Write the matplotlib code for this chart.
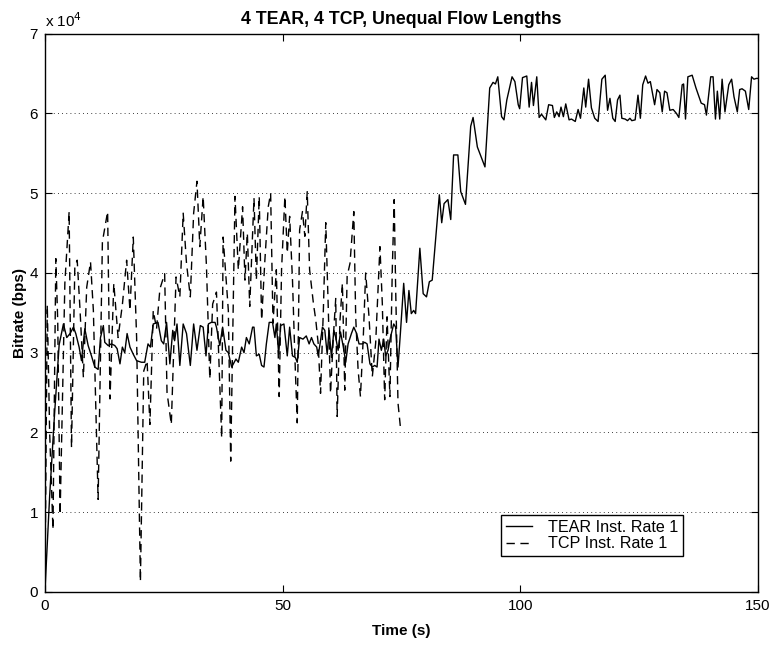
import matplotlib.pyplot as plt
from matplotlib.ticker import ScalarFormatter

plt.rcParams['font.family'] = ['Liberation Sans', 'DejaVu Sans']

# TEAR instantaneous rate (time s, bitrate in units of 1e4 bps)
tear_t = [0, 1, 2, 3, 3.9, 4.6, 5.3, 6, 6.5, 7.2, 7.7, 8.4, 9.1, 9.8, 10.5, 11.2, 11.7, 12.3, 12.6,
          13.3, 14, 14.7, 15.2, 15.8, 16.3, 16.8, 17.3, 17.9, 18.6, 19.3, 20.3, 21, 21.7, 22.2, 22.8,
          23.8, 24.5, 25, 25.6, 26.3, 26.9, 27.3, 27.8, 28.4, 29.1, 29.8, 30.6, 31.3, 32, 32.7, 33.3,
          33.9, 34.4, 35, 35.8, 36.1, 36.8, 37.4, 38.1, 38.6, 39.3, 40.2, 40.7, 41.4, 41.9, 42.4, 43,
          43.7, 44, 44.5, 45.1, 45.6, 46.1, 46.6, 47.2, 47.9, 48.4, 48.7, 49.2, 49.6, 50.3, 51, 51.5,
          52.1, 52.7, 53.1, 53.6, 54.3, 55, 55.6, 56.1, 56.6, 57.2, 57.5, 57.9, 58.4, 58.9, 59.4, 59.8,
          60.3, 60.8, 61.2, 61.7, 62.2, 62.8, 63.3, 63.8, 64.5, 65, 65.6, 66.1, 66.8, 67.3, 67.8, 68.4,
          68.9, 69.4, 69.9, 70.3, 70.8, 71.3, 71.7, 72.2, 72.7, 73.4, 73.8, 74.3, 74.8, 75.5, 76.1,
          76.6, 77.1, 77.6, 78, 78.9, 79.6, 80.3, 80.9, 81.5, 83, 83.5, 84, 84.8, 85.4, 86, 86.9, 87.5,
          88.5, 89.6, 90.1, 91, 92.6, 93.6, 94.3, 94.8, 95.3, 96.1, 96.6, 97.2, 98.3, 98.9, 99.6, 99.9,
          100.5, 101.4, 101.9, 102.4, 102.8, 103.5, 104, 104.5, 105.4, 106, 106.8, 107.2, 107.7, 108.2,
          108.6, 109.1, 109.6, 110.3, 110.8, 111.6, 112.2, 112.7, 113.4, 113.8, 114.4, 115, 115.7,
          116.4, 117.2, 117.9, 118.4, 118.9, 119.5, 120, 120.5, 121, 121.4, 122.1, 122.6, 123.1, 123.5,
          124.2, 124.8, 125.3, 125.8, 126.4, 126.9, 127.4, 128.3, 128.8, 129.4, 129.9, 130.4, 130.9,
          131.5, 132.2, 132.9, 133.4, 134.1, 134.4, 134.8, 135.3, 136.2, 137, 138.1, 138.8, 139.2,
          140.1, 140.6, 141.1, 141.5, 142, 142.5, 143.1, 143.9, 144.5, 145, 145.7, 146.2, 146.7, 147.4,
          148.1, 148.7, 149.2, 149.7, 150]
tear_v = [0, 1.2, 2.2, 3.1, 3.36, 3.19, 3.24, 3.32, 3.24, 3.07, 2.9, 3.3, 3.09, 2.96, 2.82, 2.79, 3.19,
          3.34, 3.13, 3.09, 3.11, 3.09, 3.05, 2.86, 3.07, 3.0, 3.24, 3.07, 2.98, 2.9, 2.88, 2.88, 3.11,
          3.07, 3.36, 3.38, 3.15, 3.11, 3.38, 2.86, 3.28, 3.15, 3.36, 2.84, 3.36, 3.24, 2.84, 3.36,
          3.03, 3.34, 3.32, 2.96, 3.36, 3.38, 3.38, 3.32, 3.09, 3.32, 3.03, 3.0, 2.82, 2.92, 2.88,
          3.07, 3.0, 3.19, 3.11, 3.32, 3.32, 2.96, 2.98, 2.84, 2.82, 3.11, 3.38, 3.38, 3.19, 3.36,
          2.98, 3.34, 3.36, 2.96, 3.32, 2.96, 2.94, 2.88, 3.19, 3.17, 3.21, 3.11, 3.19, 3.11, 3.07,
          2.96, 3.11, 3.32, 3.28, 2.98, 3.28, 2.94, 3.28, 3.19, 3.03, 3.26, 3.07, 2.88, 3.11, 3.24,
          3.32, 3.24, 3.11, 3.11, 3.13, 3.11, 2.86, 2.82, 2.84, 2.82, 3.17, 3.03, 3.17, 2.96, 3.03,
          3.19, 3.36, 3.32, 2.82, 3.24, 3.87, 3.38, 3.78, 3.49, 3.53, 3.49, 4.31, 3.74, 3.7, 3.89,
          3.91, 4.98, 4.63, 4.87, 4.92, 4.67, 5.48, 5.48, 5.02, 4.86, 5.84, 5.95, 5.58, 5.33, 6.32,
          6.39, 6.37, 6.46, 5.96, 5.92, 6.17, 6.46, 6.4, 6.11, 6.06, 6.45, 6.47, 6.08, 6.39, 6.1,
          6.46, 5.95, 5.99, 5.92, 6.11, 6.1, 5.95, 6.02, 5.96, 6.08, 5.96, 6.12, 5.92, 5.93, 5.9,
          6.05, 5.94, 6.32, 6.08, 6.43, 6.07, 5.94, 5.9, 6.43, 6.48, 6.04, 6.19, 5.94, 5.9, 6.17,
          6.23, 5.94, 5.93, 5.91, 5.94, 5.91, 5.92, 6.23, 5.94, 6.36, 6.47, 6.38, 6.4, 6.11, 6.3,
          6.26, 6.02, 6.28, 6.26, 6.04, 6.05, 6.0, 5.95, 6.36, 6.37, 5.93, 6.46, 6.48, 6.32, 6.13,
          6.11, 5.98, 6.46, 6.46, 5.93, 6.28, 5.93, 6.43, 6.02, 6.36, 6.43, 6.21, 6.02, 6.3, 6.31,
          6.28, 6.05, 6.46, 6.43, 6.44, 6.44]

# TCP instantaneous rate (time s, bitrate in units of 1e4 bps)
tcp_t = [0, 0.5, 1.0, 1.7, 2.3, 2.7, 3.2, 4.2, 5.1, 5.6, 6.3, 6.8, 7.4, 8.1, 8.8, 9.6, 10.2, 11.2,
         12.1, 13.2, 13.7, 14.5, 15.4, 16.3, 17.2, 17.9, 18.6, 19.3, 20.1, 20.8, 21.5, 22.1, 22.8,
         23.5, 24.2, 25.2, 25.7, 26.6, 27.6, 28.4, 29.1, 29.8, 30.6, 31.3, 32, 32.6, 33.3, 34, 34.7,
         35.3, 36.1, 37.2, 37.5, 38.6, 39.1, 40, 40.7, 41.6, 42.1, 42.6, 43.1, 44, 44.5, 45.1, 45.6,
         46.3, 47, 47.5, 48, 48.7, 49.3, 49.8, 50.5, 51, 51.5, 52.1, 52.6, 53.1, 53.6, 54.2, 54.7,
         55.2, 55.7, 56.5, 57, 57.5, 58, 58.6, 59.1, 59.6, 60.1, 60.7, 61.2, 61.5, 62.1, 62.6, 63.1,
         63.6, 64.2, 65, 65.4, 65.9, 66.4, 67, 67.5, 68.2, 68.9, 69.6, 70.5, 71, 71.5, 72, 72.6,
         73.1, 73.5, 73.8, 74.3, 74.8]
tcp_v = [0, 3.6, 2.0, 0.78, 4.18, 3.4, 0.97, 3.87, 4.77, 1.81, 4.08, 4.16, 3.53, 2.69, 3.82, 4.14,
         3.53, 1.16, 4.39, 4.77, 2.42, 3.87, 3.19, 3.6, 4.16, 3.53, 4.45, 3.19, 0.13, 2.77, 2.9, 2.1,
         3.53, 3.3, 3.8, 3.99, 2.5, 2.1, 3.95, 3.7, 4.75, 4.12, 3.7, 4.75, 5.15, 4.33, 4.96, 4.08,
         2.67, 3.61, 3.76, 1.93, 4.45, 3.53, 1.64, 4.96, 4.04, 4.83, 3.91, 4.5, 3.58, 4.94, 3.91,
         4.96, 3.41, 4.17, 4.83, 5.0, 3.37, 4.04, 2.45, 4.04, 4.96, 4.25, 4.71, 3.91, 2.95, 2.12,
         4.54, 4.77, 4.46, 5.02, 4.04, 3.62, 3.41, 3.12, 2.49, 3.54, 4.63, 3.62, 2.49, 3.2, 3.68,
         2.2, 3.41, 3.87, 2.53, 3.96, 4.12, 4.77, 3.45, 2.79, 2.45, 3.2, 4.0, 3.45, 2.7, 3.12, 4.33,
         3.62, 2.41, 3.45, 2.45, 4.04, 4.92, 3.83, 2.37, 2.07]

scale = 1e4
tear_bps = [v * scale for v in tear_v]
tcp_bps = [v * scale for v in tcp_v]

fig = plt.figure(figsize=(7.74, 6.49), dpi=100)
ax = fig.add_axes([0.058, 0.088, 0.921, 0.86])

ax.plot(tear_t, tear_bps, color='black', linestyle='-', linewidth=1.0, label='TEAR Inst. Rate 1')
ax.plot(tcp_t, tcp_bps, color='black', linestyle=(0, (6, 4)), linewidth=1.0, label='TCP Inst. Rate 1')

ax.set_xlim(0, 150)
ax.set_ylim(0, 7e4)
ax.set_xticks([0, 50, 100, 150])
ax.set_yticks([i * 1e4 for i in range(8)])

fmt = ScalarFormatter(useMathText=False)
fmt.set_powerlimits((0, 0))
ax.yaxis.set_major_formatter(fmt)
ax.yaxis.get_offset_text().set_visible(False)
ax.text(0.0, 1.006, r'x 10$^4$', transform=ax.transAxes, ha='left', va='bottom', fontsize=11)

ax.grid(True, axis='y', linestyle=(0, (1, 4)), color='black', linewidth=0.6)
ax.tick_params(direction='in', top=True, right=True, labelsize=11, length=5, pad=5)
for s in ax.spines.values():
    s.set_linewidth(1.0)

ax.set_xlabel('Time (s)', fontweight='bold', fontsize=11, labelpad=8)
ax.set_ylabel('Bitrate (bps)', fontweight='bold', fontsize=11, labelpad=2)
ax.set_title('4 TEAR, 4 TCP, Unequal Flow Lengths', fontweight='bold', fontsize=12.8, pad=7)

leg = ax.legend(loc='lower right', bbox_to_anchor=(0.895, 0.064), fancybox=False, framealpha=1,
                edgecolor='black', fontsize=11.6, handlelength=1.6, handletextpad=1.0,
                borderpad=0.3, labelspacing=0.1, borderaxespad=0)
leg.get_frame().set_linewidth(1.0)

plt.savefig('out.png', dpi=100)
